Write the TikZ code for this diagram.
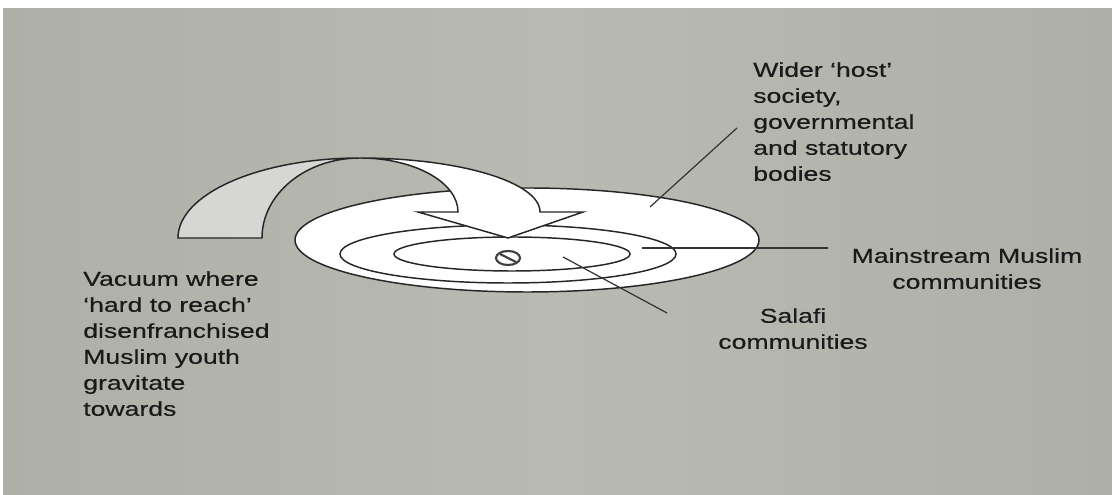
\documentclass[tikz,border=0pt]{standalone}
\usepackage{fontspec}
\newfontfamily\lblfont[FakeStretch=1.33,FakeBold=0.4]{Liberation Sans}
\usetikzlibrary{positioning}
\definecolor{ink}{HTML}{1A1A1A}
\definecolor{bgside}{HTML}{AEAFA7}
\definecolor{bgmid}{HTML}{B9BAB2}
\definecolor{back}{HTML}{D6D6D4}

\begin{document}
\begin{tikzpicture}[x=0.75pt,y=0.75pt,
  lbl/.style={inner sep=0pt,text=ink,font=\lblfont\fontsize{15}{19.5}\selectfont},
  ring/.style={draw=black!85,line width=1.1pt,fill=white},
  pointer/.style={draw=black!80,line width=0.9pt}]
\useasboundingbox (0,0) rectangle (1112,495);
\fill[white] (0,0) rectangle (1112,495);
\shade[left color=bgside,right color=bgside,middle color=bgmid] (3,0) rectangle (1112,486);
% rings
\draw[ring] (527,255) ellipse [x radius=232,y radius=52];
\draw[ring] (508,241) ellipse [x radius=168,y radius=29];
\draw[ring] (512,241) ellipse [x radius=118,y radius=17];
% centre mark
\draw[line width=1.6pt,draw=black!75] (508,237) ellipse [x radius=12,y radius=7];
\draw[line width=1.6pt,draw=black!75] (500,241) -- (516,233);
% curved arrow, back part
\draw[ring,fill=back] (178,257) arc[start angle=180,end angle=90,x radius=182,y radius=80]
  arc[start angle=90,end angle=180,x radius=98,y radius=80] -- cycle;
% front part with head
\draw[ring] (360,337) arc[start angle=90,end angle=0,x radius=180,y radius=54]
  -- (583,283) -- (508,257) -- (418,283) -- (458,283)
  arc[start angle=0,end angle=90,x radius=98,y radius=54] -- cycle;
% labels
\node[lbl,align=left,anchor=north west] (host) at (753,433)
  {Wider ‘host’\\society,\\governmental\\and statutory\\bodies};
\node[lbl,align=left,anchor=north west] (vacuum) at (83,224)
  {Vacuum where\\‘hard to reach’\\disenfranchised\\Muslim youth\\gravitate\\towards};
\node[lbl,align=center,anchor=north] (mainstream) at (967,247) {Mainstream Muslim\\communities};
\node[lbl,align=center,anchor=north] (salafi) at (793,187) {Salafi\\communities};
% pointers
\coordinate (hostpt) at (650,288);
\coordinate (hostend) at (737,367);
\coordinate (mainpt) at (642,247);
\coordinate (mainend) at (828,247);
\coordinate (salafipt) at (563,238);
\coordinate (salafiend) at (667,182);
\draw[pointer] (hostpt) -- (hostend);
\draw[pointer] (mainpt) -- (mainend);
\draw[pointer] (salafipt) -- (salafiend);
\end{tikzpicture}
\end{document}
